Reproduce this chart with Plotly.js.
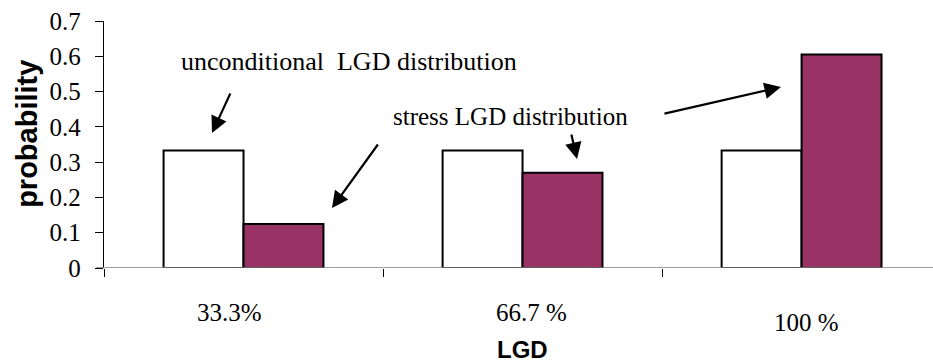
<!DOCTYPE html>
<html>
<head>
<meta charset="utf-8">
<script src="https://cdn.plot.ly/plotly-3.0.1.min.js"></script>
<style>
  html, body { margin: 0; padding: 0; background: #ffffff; }
  #chart { width: 933px; height: 363px; }
</style>
</head>
<body>
<div id="chart"></div>
<script>
// LGD outcomes and the two probability distributions over them
const categories = ["33.3%", "66.7 %", "100 %"];
const unconditionalProb = [0.333, 0.333, 0.333];
const stressProb = [0.125, 0.27, 0.605];

// category captions under the axis (offsets in px from the category centre)
const captionShiftX = [-14, 8.5, 4.5];
const captionShiftY = [-44, -44, -54];

const serif = "Liberation Serif, Times New Roman, serif";
const sans = "Liberation Sans, Arial, sans-serif";

const traces = [
  {
    type: "bar",
    name: "unconditional LGD distribution",
    x: categories,
    y: unconditionalProb,
    marker: { color: "#ffffff", line: { color: "#000000", width: 2 } },
    hoverinfo: "x+y"
  },
  {
    type: "bar",
    name: "stress LGD distribution",
    x: categories,
    y: stressProb,
    marker: { color: "#993366", line: { color: "#000000", width: 2 } },
    hoverinfo: "x+y"
  }
];

const annotations = [];

// category captions
categories.forEach((c, i) => {
  annotations.push({
    xref: "x", yref: "paper", x: c, y: 0,
    xshift: captionShiftX[i], yshift: captionShiftY[i],
    xanchor: "center", yanchor: "middle",
    text: c, showarrow: false,
    font: { family: serif, size: 25, color: "#000000" }
  });
});

// axis titles
annotations.push({
  xref: "paper", yref: "paper", x: -0.0923, y: 0.545,
  xanchor: "center", yanchor: "middle", textangle: -90,
  text: "<b>probability</b>", showarrow: false,
  font: { family: sans, size: 29, color: "#000000" }
});
annotations.push({
  xref: "paper", yref: "paper", x: 0.5046, y: -0.3293,
  xanchor: "center", yanchor: "middle",
  text: "<b>LGD</b>", showarrow: false,
  font: { family: sans, size: 24, color: "#000000" }
});

// callout labels
annotations.push({
  xref: "paper", yref: "paper", x: 0.2950, y: 0.838,
  xanchor: "center", yanchor: "middle",
  text: "unconditional\u00a0 LGD distribution", showarrow: false,
  font: { family: serif, size: 26, color: "#000000" }
});
annotations.push({
  xref: "paper", yref: "paper", x: 0.4904, y: 0.615,
  xanchor: "center", yanchor: "middle",
  text: "stress LGD distribution", showarrow: false,
  font: { family: serif, size: 25, color: "#000000" }
});

// callout arrows: tip in paper coords, tail offset in px
const arrows = [
  { x: 0.1303, y: 0.5466, ax: 19, ay: -41 },
  { x: 0.2750, y: 0.2429, ax: 47, ay: -65 },
  { x: 0.5706, y: 0.4413, ax: -6, ay: -26 },
  { x: 0.8166, y: 0.7328, ax: -118, ay: 27 }
];
arrows.forEach(a => {
  annotations.push({
    xref: "paper", yref: "paper", x: a.x, y: a.y,
    ax: a.ax, ay: a.ay, axref: "pixel", ayref: "pixel",
    text: "", showarrow: true,
    arrowhead: 2, arrowsize: 1.5, arrowwidth: 2.2, arrowcolor: "#000000",
    standoff: 0, startstandoff: 0
  });
});

const layout = {
  width: 933,
  height: 363,
  margin: { l: 104, r: 0, t: 21, b: 95, pad: 0 },
  paper_bgcolor: "#ffffff",
  plot_bgcolor: "#ffffff",
  showlegend: false,
  barmode: "group",
  bargap: 0.427,
  bargroupgap: 0,
  xaxis: {
    type: "category",
    range: [-0.5, 2.471],
    showticklabels: false,
    ticks: "outside",
    tickson: "boundaries",
    ticklen: 8,
    tickwidth: 1,
    tickcolor: "#000000",
    showgrid: false,
    zeroline: false,
    showline: false,
    fixedrange: true
  },
  yaxis: {
    range: [0, 0.7],
    dtick: 0.1,
    tick0: 0,
    ticks: "outside",
    ticklen: 8,
    tickwidth: 1,
    tickcolor: "#000000",
    ticklabelstandoff: 9,
    tickfont: { family: serif, size: 25, color: "#000000" },
    showgrid: false,
    zeroline: false,
    showline: true,
    linecolor: "#000000",
    linewidth: 1.3,
    fixedrange: true
  },
  shapes: [
    {
      type: "line", xref: "paper", yref: "y",
      x0: -8 / 829, x1: 1, y0: 0, y1: 0,
      line: { color: "#808080", width: 1.6 },
      layer: "above"
    }
  ],
  annotations: annotations
};

Plotly.newPlot("chart", traces, layout, { displayModeBar: false, staticPlot: true });
</script>
</body>
</html>
